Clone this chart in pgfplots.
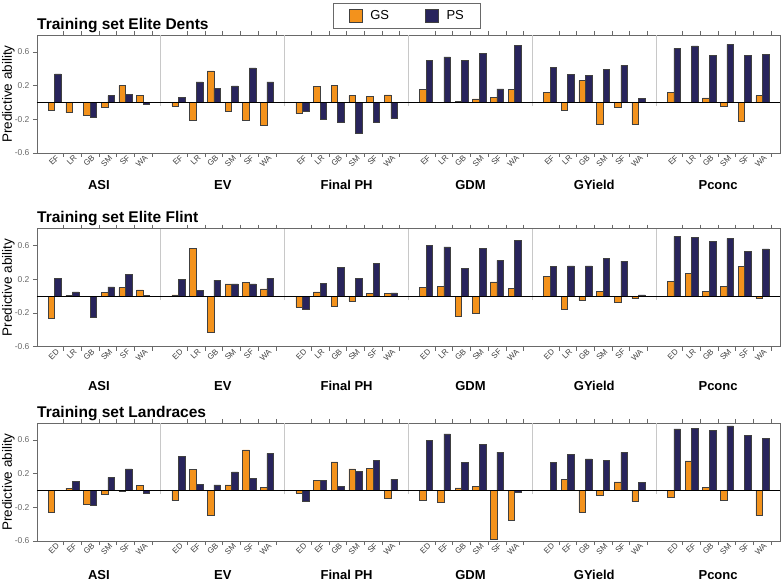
\documentclass[border=0pt]{standalone}
\usepackage{pgfplots}
\pgfplotsset{compat=1.18}
\usepackage{pgfplotstable}
\usepackage{fontspec}
\setmainfont{Liberation Sans}

\definecolor{gsorange}{RGB}{243,146,28}
\definecolor{psnavy}{RGB}{40,36,92}
\definecolor{framegray}{RGB}{105,105,105}
\definecolor{sepgray}{RGB}{200,200,200}
\definecolor{ticktext}{RGB}{105,105,105}

% x: facet f (0..5), category k (1..6) -> 7f+k
\pgfplotstableread{
x gs ps
1 -0.09 0.34
2 -0.12 0.00
3 -0.155 -0.175
4 -0.055 0.08
5 0.20 0.095
6 0.085 -0.02
8 -0.045 0.06
9 -0.21 0.245
10 0.375 0.17
11 -0.10 0.195
12 -0.21 0.41
13 -0.27 0.245
15 -0.13 -0.105
16 0.19 -0.20
17 0.205 -0.23
18 0.08 -0.36
19 0.07 -0.24
20 0.09 -0.19
22 0.155 0.50
23 0.00 0.54
24 0.016 0.50
25 0.043 0.58
26 0.06 0.16
27 0.155 0.68
29 0.12 0.42
30 -0.09 0.33
31 0.26 0.32
32 -0.26 0.39
33 -0.06 0.44
34 -0.26 0.05
36 0.115 0.64
37 0.00 0.67
38 0.055 0.56
39 -0.05 0.69
40 -0.22 0.56
41 0.08 0.57
}\dents

\pgfplotstableread{
x gs ps
1 -0.26 0.21
2 0.01 0.05
3 0.00 -0.245
4 0.045 0.11
5 0.10 0.26
6 0.075 0.005
8 0.015 0.195
9 0.57 0.07
10 -0.43 0.19
11 0.145 0.145
12 0.16 0.145
13 0.085 0.215
15 -0.13 -0.155
16 0.05 0.15
17 -0.115 0.34
18 -0.055 0.21
19 0.03 0.385
20 0.03 0.04
22 0.10 0.60
23 0.12 0.585
24 -0.24 0.33
25 -0.205 0.57
26 0.17 0.425
27 0.09 0.665
29 0.23 0.355
30 -0.15 0.36
31 -0.05 0.36
32 0.06 0.45
33 -0.07 0.415
34 -0.03 0.015
36 0.175 0.71
37 0.27 0.70
38 0.06 0.65
39 0.12 0.685
40 0.35 0.53
41 -0.03 0.56
}\flint

\pgfplotstableread{
x gs ps
1 -0.26 0.00
2 0.028 0.105
3 -0.165 -0.18
4 -0.045 0.155
5 -0.015 0.255
6 0.06 -0.03
8 -0.12 0.40
9 0.25 0.075
10 -0.30 0.065
11 0.067 0.22
12 0.48 0.14
13 0.04 0.44
15 -0.03 -0.125
16 0.12 0.115
17 0.34 0.05
18 0.255 0.225
19 0.265 0.355
20 -0.09 0.135
22 -0.115 0.59
23 -0.14 0.67
24 0.03 0.33
25 0.05 0.55
26 -0.585 0.455
27 -0.35 -0.02
29 0.00 0.33
30 0.134 0.43
31 -0.255 0.375
32 -0.06 0.36
33 0.10 0.45
34 -0.13 0.095
36 -0.083 0.73
37 0.35 0.74
38 0.04 0.715
39 -0.12 0.765
40 0.00 0.655
41 -0.30 0.62
}\landraces

\pgfplotsset{
  facet/.style={
    width=743pt, height=118pt, scale only axis,
    xmin=0, xmax=42, ymin=-0.6, ymax=0.8,
    clip=false,
    axis line style={framegray, line width=0.8pt},
    ytick={-0.6,-0.2,0.2,0.6},
    yticklabel style={font=\fontsize{8.5}{10}\selectfont, text=ticktext},
    /pgf/number format/assume math mode=true,
    /pgf/number format/fixed, /pgf/number format/precision=1,
    tick align=outside, major tick length=4pt, minor tick length=4pt,
    every tick/.style={framegray, line width=0.6pt},
    xtick={1,2,3,4,5,6,8,9,10,11,12,13,15,16,17,18,19,20,22,23,24,25,26,27,29,30,31,32,33,34,36,37,38,39,40,41},
    major x tick style={draw=none},
    minor xtick={1.5,2.5,3.5,4.5,5.5,6.5,8.5,9.5,10.5,11.5,12.5,13.5,15.5,16.5,17.5,18.5,19.5,20.5,22.5,23.5,24.5,25.5,26.5,27.5,29.5,30.5,31.5,32.5,33.5,34.5,36.5,37.5,38.5,39.5,40.5,41.5},
    xticklabel style={rotate=45, anchor=north east, xshift=3.5pt, yshift=2pt,
      inner sep=1pt, font=\fontsize{8}{9}\selectfont, text=black!75},
  },
  gsbar/.style={ybar, bar width=0.37, bar shift=-0.185, fill=gsorange,
    draw=black!75, line width=0.5pt,
    legend image code/.code={\draw[fill=gsorange, draw=black!75, line width=0.5pt] (0pt,-6.5pt) rectangle (13pt,6.5pt);}},
  psbar/.style={ybar, bar width=0.37, bar shift=0.185, fill=psnavy,
    draw=black!75, line width=0.5pt,
    legend image code/.code={\draw[fill=psnavy, draw=black!75, line width=0.5pt] (0pt,-6.5pt) rectangle (13pt,6.5pt);}},
}

% gray separators between the six trait panels
\newcommand{\separators}{%
  \pgfplotsinvokeforeach{7,14,21,28,35}{
    \draw[sepgray, line width=0.8pt] (axis cs:##1,-0.6) ++(0,-4pt) -- (axis cs:##1,0.8);
  }%
}
% trait names under each panel, #1 = drop below the axis
\newcommand{\traitnames}[1]{%
  \node[anchor=base, inner sep=0pt, font=\fontsize{13}{15}\selectfont\bfseries] at (axis cs:3.5,-0.6) [yshift=-#1] {ASI};
  \node[anchor=base, inner sep=0pt, font=\fontsize{13}{15}\selectfont\bfseries] at (axis cs:10.5,-0.6) [yshift=-#1] {EV};
  \node[anchor=base, inner sep=0pt, font=\fontsize{13}{15}\selectfont\bfseries] at (axis cs:17.5,-0.6) [yshift=-#1] {Final PH};
  \node[anchor=base, inner sep=0pt, font=\fontsize{13}{15}\selectfont\bfseries] at (axis cs:24.5,-0.6) [yshift=-#1] {GDM};
  \node[anchor=base, inner sep=0pt, font=\fontsize{13}{15}\selectfont\bfseries] at (axis cs:31.5,-0.6) [yshift=-#1] {GYield};
  \node[anchor=base, inner sep=0pt, font=\fontsize{13}{15}\selectfont\bfseries] at (axis cs:38.5,-0.6) [yshift=-#1] {Pconc};
}
\newcommand{\ylab}{%
  \node[font=\fontsize{13.5}{16}\selectfont, xshift=-28.5pt, rotate=90]
    at (rel axis cs:0,0.5) {Predictive ability};
}

\begin{document}
\begin{tikzpicture}
\path[use as bounding box] (0,0) rectangle (781pt,581pt);

% ---------------- Elite Dents ----------------
\begin{axis}[facet, at={(37pt,428pt)}, anchor=south west,
  xticklabels={EF,LR,GB,SM,SF,WA,EF,LR,GB,SM,SF,WA,EF,LR,GB,SM,SF,WA,EF,LR,GB,SM,SF,WA,EF,LR,GB,SM,SF,WA,EF,LR,GB,SM,SF,WA},
  legend style={at={(rel axis cs:0.4984,1.161)}, anchor=center, draw=framegray,
    line width=0.8pt, legend columns=2, font=\fontsize{13}{15}\selectfont,
    inner xsep=15pt, inner ysep=5pt,
    /tikz/every odd column/.append style={column sep=6pt},
    /tikz/every even column/.append style={column sep=34pt}},
]
\separators
\addplot[gsbar] table[x=x, y=gs] {\dents};
\addlegendentry{GS}
\addplot[psbar] table[x=x, y=ps] {\dents};
\addlegendentry{PS}
\draw[black, line width=0.8pt] (axis cs:0,0) -- (axis cs:42,0);
\node[anchor=base west, inner sep=0pt, font=\fontsize{15.5}{18}\selectfont\bfseries]
  at (rel axis cs:0,1) [yshift=5.7pt] {Training set Elite Dents};
\ylab
\traitnames{36.5pt}
\end{axis}

% ---------------- Elite Flint ----------------
\begin{axis}[facet, at={(37pt,234.3pt)}, anchor=south west,
  xticklabels={ED,LR,GB,SM,SF,WA,ED,LR,GB,SM,SF,WA,ED,LR,GB,SM,SF,WA,ED,LR,GB,SM,SF,WA,ED,LR,GB,SM,SF,WA,ED,LR,GB,SM,SF,WA},
]
\separators
\addplot[gsbar] table[x=x, y=gs] {\flint};
\addplot[psbar] table[x=x, y=ps] {\flint};
\draw[black, line width=0.8pt] (axis cs:0,0) -- (axis cs:42,0);
\node[anchor=base west, inner sep=0pt, font=\fontsize{15.5}{18}\selectfont\bfseries]
  at (rel axis cs:0,1) [yshift=6pt] {Training set Elite Flint};
\ylab
\traitnames{43.3pt}
\end{axis}

% ---------------- Landraces ----------------
\begin{axis}[facet, at={(37pt,40pt)}, anchor=south west,
  xticklabels={ED,EF,GB,SM,SF,WA,ED,EF,GB,SM,SF,WA,ED,EF,GB,SM,SF,WA,ED,EF,GB,SM,SF,WA,ED,EF,GB,SM,SF,WA,ED,EF,GB,SM,SF,WA},
]
\separators
\addplot[gsbar] table[x=x, y=gs] {\landraces};
\addplot[psbar] table[x=x, y=ps] {\landraces};
\draw[black, line width=0.8pt] (axis cs:0,0) -- (axis cs:42,0);
\node[anchor=base west, inner sep=0pt, font=\fontsize{15.5}{18}\selectfont\bfseries]
  at (rel axis cs:0,1) [yshift=5pt] {Training set Landraces};
\ylab
\traitnames{38pt}
\end{axis}
\end{tikzpicture}
\end{document}
